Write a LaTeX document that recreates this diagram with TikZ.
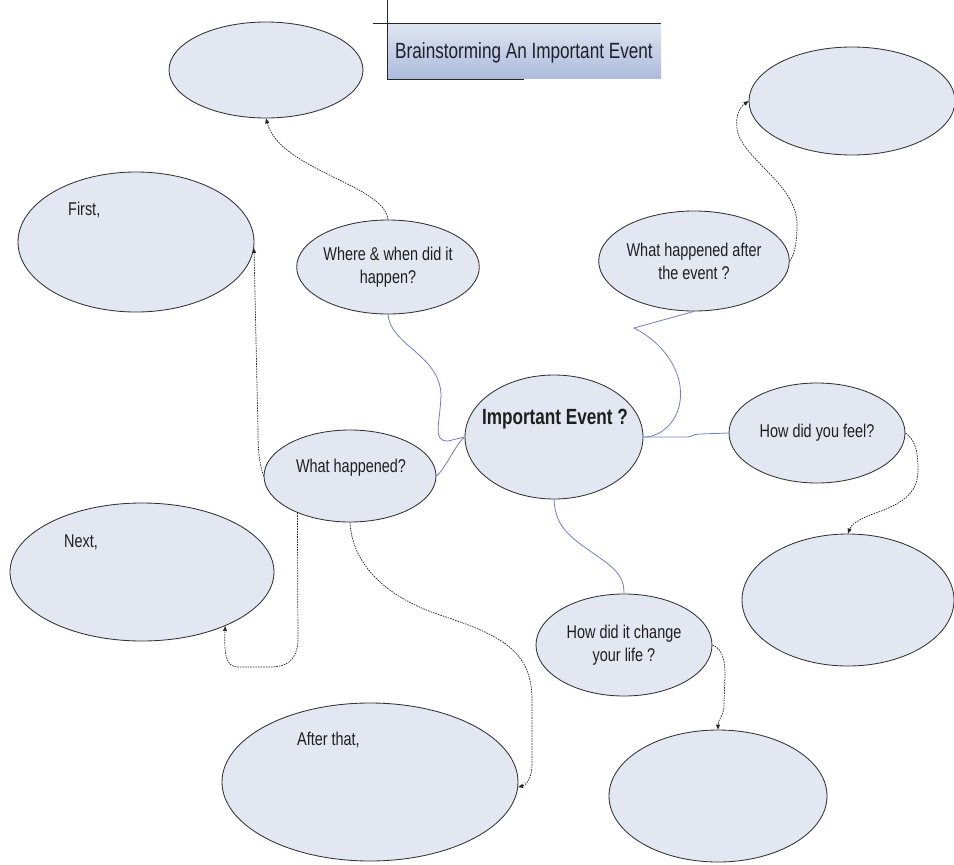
\documentclass[tikz,border=0pt]{standalone}
\usepackage{fontspec}
\setmainfont[FakeStretch=0.78]{Liberation Sans}
\usetikzlibrary{shapes.geometric,arrows.meta}
\definecolor{bubble}{RGB}{227,231,242}
\definecolor{bline}{RGB}{50,50,50}
\definecolor{linkblue}{RGB}{112,124,196}
\definecolor{ttop}{RGB}{224,229,241}
\definecolor{tbot}{RGB}{172,188,220}
\definecolor{titletext}{RGB}{30,32,44}
\begin{document}
\begin{tikzpicture}[x=1pt,y=-1pt,
  bub/.style={ellipse, draw=bline, line width=0.85pt, fill=bubble, inner sep=0pt, align=center,
              font=\fontsize{18.5}{23}\selectfont, text=black!88},
  txt/.style={inner sep=0pt, font=\fontsize{18.5}{23}\selectfont, text=black!88},
  bluelink/.style={draw=linkblue, line width=0.8pt},
  dlink/.style={draw=black!85, line width=0.7pt, dash pattern=on 1.6pt off 1pt,
                -{Triangle[length=5pt,width=4pt]}}
]
\useasboundingbox (0,0) rectangle (954,865);

% title box
\node[rectangle, inner sep=0pt, minimum width=274pt, minimum height=55pt,
      top color=ttop, bottom color=tbot] (titlebox) at (524,50.5) {};
\draw[line width=1pt, black!85] (373,23) -- (661,23);
\draw[line width=1pt, black!85] (387,0) -- (387,80);
\draw[line width=1pt, black!85] (387,79) -- (524,79);
\node[txt, font=\fontsize{22}{26}\selectfont, text=titletext, anchor=base] (title) at (524,58) {Brainstorming An Important Event};

% bubbles
\node[bub, minimum width=194pt, minimum height=96pt] (tl) at (266,70) {};
\node[bub, minimum width=206pt, minimum height=108pt] (tr) at (852,101) {};
\node[bub, minimum width=236pt, minimum height=140pt] (first) at (136,242) {};
\node[txt, anchor=base west] (firstt) at (68,215) {First,};
\node[bub, minimum width=176pt, minimum height=94pt] (where) at (388,267) {Where \& when did it\\happen?};
\node[bub, minimum width=176pt, minimum height=100pt] (after) at (694,261) {What happened after\\the event ?};
\node[bub, minimum width=178pt, minimum height=124pt] (imp) at (554,437) {};
\node[txt, font=\bfseries\fontsize{22}{26}\selectfont, anchor=base] (impt) at (555,424) {Important Event ?};
\node[bub, minimum width=176pt, minimum height=100pt] (feel) at (817,433) {How did you feel?};
\node[bub, minimum width=172pt, minimum height=92pt] (what) at (350,476) {};
\node[txt, anchor=base] (whatt) at (351,472) {What happened?};
\node[bub, minimum width=264pt, minimum height=138pt] (next) at (142,572) {};
\node[txt, anchor=base west] (nextt) at (64,547) {Next,};
\node[bub, minimum width=212pt, minimum height=132pt] (rb) at (848,600) {};
\node[bub, minimum width=176pt, minimum height=102pt] (change) at (624,645) {How did it change\\your life ?};
\node[bub, minimum width=296pt, minimum height=158pt] (afterthat) at (370,782) {};
\node[txt, anchor=base west] (aftert) at (297,745) {After that,};
\node[bub, minimum width=218pt, minimum height=132pt] (br) at (718,796) {};

% blue links to the centre
\draw[bluelink] (where.south) .. controls (390,345) and (440,355) .. (441,395)
  .. controls (440,425) and (432,441) .. (448,441) -- (imp.west);
\draw[bluelink] (what.east) .. controls (446,468) and (455,445) .. (imp.west);
\draw[bluelink] (after.south) -- (634,328) .. controls (668,345) and (688,380) .. (678,410)
  .. controls (672,428) and (655,438) .. (imp.east);
\draw[bluelink] (imp.east) -- (687,437) .. controls (692,437) and (693,434) .. (700,434) -- (feel.west);
\draw[bluelink] (imp.south) .. controls (555,530) and (575,540) .. (600,558)
  .. controls (620,572) and (624,580) .. (change.north);

% dashed arrows
\draw[dlink] (where.north) .. controls (385,185) and (280,170) .. (tl.south);
\draw[dlink] (what.west) .. controls (259,462) and (258,450) .. (258,430) -- (first.-3);
\draw[dlink] (what.215) -- (298,640) .. controls (297,662) and (285,667) .. (270,667) -- (238,667)
  .. controls (226,667) and (224,655) .. (next.-33);
\draw[dlink] (what.south) .. controls (352,560) and (380,595) .. (440,615)
  .. controls (500,635) and (532,650) .. (532,700) -- (532,765)
  .. controls (532,778) and (526,785) .. (afterthat.-2);
\draw[dlink] (after.east) .. controls (792,258) and (797,250) .. (797,225)
  .. controls (797,190) and (760,170) .. (742,142)
  .. controls (733,128) and (736,110) .. (tr.west);
\draw[dlink] (feel.east) .. controls (915,440) and (918,450) .. (918,470)
  .. controls (918,495) and (900,505) .. (870,515)
  .. controls (858,520) and (851,525) .. (rb.north);
\draw[dlink] (change.east) .. controls (720,648) and (725,655) .. (725,675) -- (724,705)
  .. controls (724,715) and (718,720) .. (br.north);
\end{tikzpicture}
\end{document}
